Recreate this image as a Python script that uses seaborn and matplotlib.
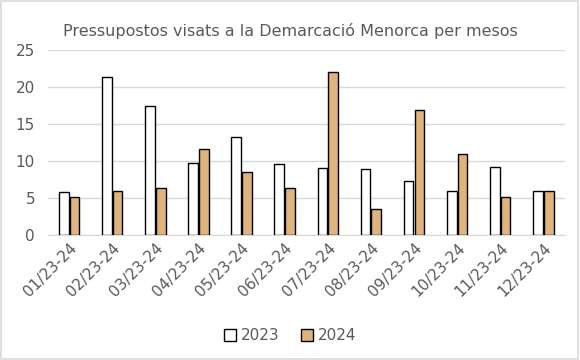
import pandas as pd
import matplotlib
matplotlib.use("Agg")
import matplotlib.pyplot as plt
import seaborn as sns
from matplotlib.patches import Rectangle

# dades llegides del gràfic
mesos = ["01/23-24", "02/23-24", "03/23-24", "04/23-24", "05/23-24", "06/23-24",
         "07/23-24", "08/23-24", "09/23-24", "10/23-24", "11/23-24", "12/23-24"]
valors_2023 = [5.8, 21.3, 17.4, 9.7, 13.2, 9.6, 9.0, 8.9, 7.3, 6.0, 9.2, 5.9]
valors_2024 = [5.2, 5.9, 6.4, 11.6, 8.5, 6.4, 22.0, 3.5, 16.9, 10.9, 5.2, 6.0]
anys = ["2023", "2024"]

df = pd.DataFrame({
    "Mes": mesos * 2,
    "Any": [anys[0]] * len(mesos) + [anys[1]] * len(mesos),
    "Pressupostos": valors_2023 + valors_2024,
})

sns.set_style("white")
plt.rcParams['font.family'] = ['DejaVu Sans']
gris = '#595959'

fig = plt.figure(figsize=(5.8, 3.6), dpi=100)
ax = fig.add_axes([0.082, 0.347, 0.892, 0.514])

sns.barplot(data=df, x="Mes", y="Pressupostos", hue="Any",
            palette={"2023": "white", "2024": "#DFB47C"}, saturation=1,
            width=0.5, gap=0.1, edgecolor="black", linewidth=1,
            ax=ax, zorder=3, legend=True)

ax.set_ylim(0, 25)
ax.set_yticks([0, 5, 10, 15, 20, 25])
ax.yaxis.grid(True, color='#d9d9d9', linewidth=1, zorder=0)
ax.set_axisbelow(True)
for s in ['top', 'right', 'left']:
    ax.spines[s].set_visible(False)
ax.spines['bottom'].set_color('#d9d9d9')
ax.set_xlabel('')
ax.set_ylabel('')
ax.tick_params(axis='both', length=0, labelsize=11, labelcolor=gris)
ax.tick_params(axis='y', pad=9)
plt.setp(ax.get_xticklabels(), rotation=45, ha='right', rotation_mode='anchor')

handles, labels = ax.get_legend_handles_labels()
ax.get_legend().remove()
fig.legend(handles, labels, loc='center', bbox_to_anchor=(0.5, 0.067), ncol=2,
           frameon=False, fontsize=11, labelcolor=gris, handlelength=0.8,
           handleheight=0.8, handletextpad=0.3, columnspacing=1.4)

fig.suptitle("Pressupostos visats a la Demarcació Menorca per mesos",
             x=0.5, y=0.935, fontsize=11.5, color=gris)

# vora del gràfic
fig.patches.append(Rectangle((0.002, 0.003), 0.995, 0.993, transform=fig.transFigure,
                             fill=False, edgecolor='#d9d9d9', linewidth=1.2))

plt.savefig("out.png", dpi=100)
plt.close()
